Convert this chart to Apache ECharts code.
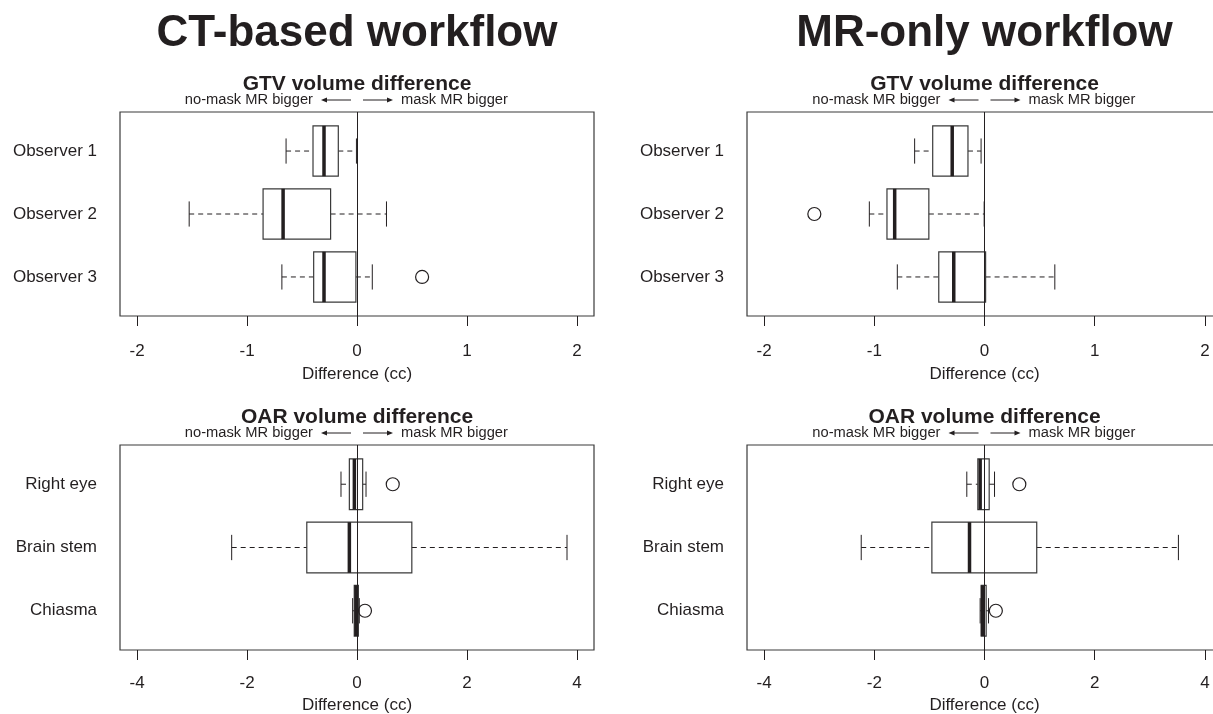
<!DOCTYPE html>
<html><head><meta charset="utf-8">
<script src="https://cdn.jsdelivr.net/npm/echarts@6/dist/echarts.min.js"></script>
<style>html,body{margin:0;padding:0;background:#fff}#c{width:1213px;height:714px}</style>
</head><body><div id="c"></div>
<script>
// ---- data ----
const workflowTitles = ['CT-based workflow', 'MR-only workflow'];
const panelTitles = ['GTV volume difference', 'OAR volume difference'];
const leftNote = 'no-mask MR bigger';
const rightNote = 'mask MR bigger';
const axisName = 'Difference (cc)';
const gtvCategories = ['Observer 1', 'Observer 2', 'Observer 3'];
const oarCategories = ['Right eye', 'Brain stem', 'Chiasma'];
// each row: [lower whisker, Q1, median, Q3, upper whisker]
const ctGtvBoxes = [[-0.645, -0.400, -0.300, -0.170, -0.005], [-1.526, -0.854, -0.672, -0.240, 0.268], [-0.683, -0.394, -0.300, -0.010, 0.139]];
const ctGtvOutliers = [[0.592, 3]];
const mrGtvBoxes = [[-0.634, -0.470, -0.293, -0.150, -0.031], [-1.045, -0.885, -0.815, -0.505, -0.003], [-0.791, -0.415, -0.279, 0.010, 0.638]];
const mrGtvOutliers = [[-1.544, 2]];
const ctOarBoxes = [[-0.291, -0.139, -0.048, 0.103, 0.164], [-2.279, -0.913, -0.139, 0.997, 3.819], [-0.079, -0.050, -0.018, 0.025, 0.042]];
const ctOarOutliers = [[0.650, 1], [0.145, 3]];
const mrOarBoxes = [[-0.321, -0.121, -0.079, 0.085, 0.182], [-2.237, -0.955, -0.272, 0.948, 3.519], [-0.079, -0.060, -0.035, 0.030, 0.073]];
const mrOarOutliers = [[0.632, 1], [0.206, 3]];
const gtvTicks = [-2, -1, 0, 1, 2];
const oarTicks = [-4, -2, 0, 2, 4];
const gtvRange = 2.155;
const oarRange = 4.31;

// ---- layout / style ----
const FONT = "'Liberation Sans', Arial, Helvetica, sans-serif";
const INK = '#231f20';
const LINE = '#3a3a3a';
const panels = [
  { left: 120, top: 112, width: 474, height: 204, labelGap: 27, nameGap: 50, cats: gtvCategories, boxes: ctGtvBoxes, outl: ctGtvOutliers, ticks: gtvTicks, range: gtvRange, title: panelTitles[0] },
  { left: 747, top: 112, width: 475, height: 204, labelGap: 27, nameGap: 50, cats: gtvCategories, boxes: mrGtvBoxes, outl: mrGtvOutliers, ticks: gtvTicks, range: gtvRange, title: panelTitles[0] },
  { left: 120, top: 445, width: 474, height: 205, labelGap: 25, nameGap: 47, cats: oarCategories, boxes: ctOarBoxes, outl: ctOarOutliers, ticks: oarTicks, range: oarRange, title: panelTitles[1] },
  { left: 747, top: 445, width: 475, height: 205, labelGap: 25, nameGap: 47, cats: oarCategories, boxes: mrOarBoxes, outl: mrOarOutliers, ticks: oarTicks, range: oarRange, title: panelTitles[1] }
];

const chart = echarts.init(document.getElementById('c'), null, { renderer: 'canvas' });

function renderBox(params, api) {
  const y = api.value(0);
  const lo = api.coord([api.value(1), y]);
  const q1 = api.coord([api.value(2), y]);
  const md = api.coord([api.value(3), y]);
  const q3 = api.coord([api.value(4), y]);
  const hi = api.coord([api.value(5), y]);
  const h = api.size([0, 0.4])[1];
  const yc = lo[1];
  const dash = { stroke: INK, lineWidth: 1, lineDash: [5, 4] };
  const solid = { stroke: INK, lineWidth: 1 };
  return {
    type: 'group',
    children: [
      { type: 'line', shape: { x1: lo[0], y1: yc, x2: q1[0], y2: yc }, style: dash },
      { type: 'line', shape: { x1: q3[0], y1: yc, x2: hi[0], y2: yc }, style: dash },
      { type: 'line', shape: { x1: lo[0], y1: yc - h / 2, x2: lo[0], y2: yc + h / 2 }, style: solid },
      { type: 'line', shape: { x1: hi[0], y1: yc - h / 2, x2: hi[0], y2: yc + h / 2 }, style: solid },
      { type: 'rect', shape: { x: q1[0], y: yc - h, width: q3[0] - q1[0], height: 2 * h }, style: { fill: 'none', stroke: LINE, lineWidth: 1.2 } },
      { type: 'line', shape: { x1: md[0], y1: yc - h, x2: md[0], y2: yc + h }, style: { stroke: INK, lineWidth: 3.5 } }
    ]
  };
}

const grid = [], xAxis = [], yAxis = [], series = [];
panels.forEach((p, i) => {
  grid.push({ left: p.left, top: p.top, width: p.width, height: p.height, outerBoundsMode: 'none', containLabel: false, show: true, borderColor: LINE, borderWidth: 1.2, backgroundColor: 'transparent' });
  xAxis.push({
    type: 'value', gridIndex: i, min: -p.range, max: p.range,
    axisLine: { show: false },
    axisTick: { show: true, customValues: p.ticks, length: 10, inside: false, lineStyle: { color: INK, width: 1 } },
    axisLabel: { customValues: p.ticks, margin: p.labelGap, fontSize: 17, lineHeight: 17, color: INK, fontFamily: FONT, formatter: v => String(v) },
    splitLine: { show: false },
    name: axisName, nameLocation: 'middle', nameGap: p.nameGap,
    nameTextStyle: { fontSize: 17, lineHeight: 17, color: INK, fontFamily: FONT }
  });
  yAxis.push({
    type: 'value', gridIndex: i, min: 0.38, max: 3.62, inverse: true,
    axisLine: { show: false }, axisTick: { show: false }, splitLine: { show: false },
    axisLabel: { customValues: [1, 2, 3], formatter: v => p.cats[Math.round(v) - 1] || '', margin: 23, fontSize: 17, color: INK, fontFamily: FONT }
  });
  series.push({
    type: 'custom', xAxisIndex: i, yAxisIndex: i, renderItem: renderBox, silent: true,
    encode: { x: [1, 2, 3, 4, 5], y: 0 },
    data: p.boxes.map((b, k) => [k + 1].concat(b)),
    markLine: { silent: true, symbol: 'none', label: { show: false }, animation: false,
      lineStyle: { color: INK, width: 1, type: 'solid' }, data: [{ xAxis: 0 }] },
    z: 3
  });
  series.push({
    type: 'scatter', xAxisIndex: i, yAxisIndex: i, silent: true,
    symbol: 'circle', symbolSize: 13,
    itemStyle: { color: 'rgba(0,0,0,0)', borderColor: INK, borderWidth: 1.2, opacity: 1 },
    data: p.outl.map(o => [o[0], o[1]]), z: 4
  });
});

chart.setOption({ animation: false, backgroundColor: '#fff', grid, xAxis, yAxis, series });

// ---- titles and annotations ----
const graphic = [];
function txt(x, y, text, font, align) {
  graphic.push({ type: 'text', x, y, silent: true, style: { text, font, fill: INK, textAlign: align || 'center', textVerticalAlign: 'middle' } });
}
function arrow(x1, x2, y) {
  const dir = Math.sign(x2 - x1);
  graphic.push({ type: 'line', silent: true, shape: { x1, y1: y, x2: x2 - dir * 4, y2: y }, style: { stroke: INK, lineWidth: 1 } });
  graphic.push({ type: 'polygon', silent: true, shape: { points: [[x2, y], [x2 - dir * 6, y - 2.5], [x2 - dir * 6, y + 2.5]] }, style: { fill: INK } });
}
panels.forEach((p, i) => {
  const zero = chart.convertToPixel({ gridIndex: i }, [0, 1])[0];
  if (i < 2) txt(zero, 34, workflowTitles[i], `bold 44px ${FONT}`);
  txt(zero, p.top - 28, p.title, `bold 21px ${FONT}`);
  const sy = p.top - 12;
  txt(zero - 44, sy, leftNote, `14.7px ${FONT}`, 'right');
  txt(zero + 44, sy, rightNote, `14.7px ${FONT}`, 'left');
  arrow(zero - 6, zero - 36, sy);
  arrow(zero + 6, zero + 36, sy);
});
chart.setOption({ graphic });
</script>
</body></html>
